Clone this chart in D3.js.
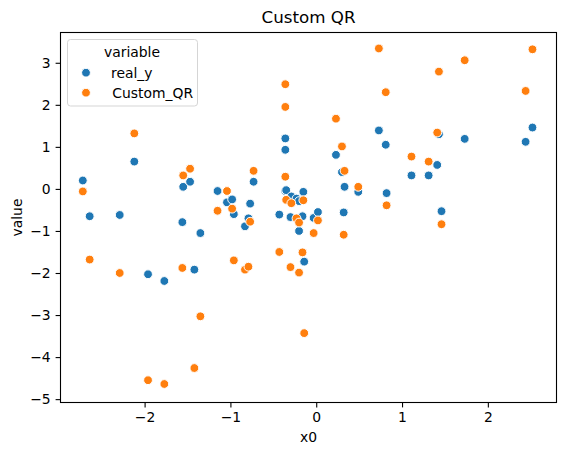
<!DOCTYPE html>
<html lang="en">
<head>
<meta charset="UTF-8">
<title>Custom QR</title>
<script src="https://d3js.org/d3.v7.min.js"></script>
<style>
  body { margin: 0; background: #fff; }
  text { font-family: "DejaVu Sans", sans-serif; fill: #000; }
</style>
</head>
<body>
<div id="chart"></div>
<script>

// data
var x0 = [-2.72, -2.64, -2.29, -2.12, -1.96, -1.77, -1.56, -1.55, -1.47, -1.42,
          -1.35, -1.15, -1.04, -0.98, -0.96, -0.83, -0.79, -0.77, -0.73, -0.43,
          -0.36, -0.36, -0.36, -0.35, -0.30, -0.29, -0.23, -0.20, -0.20, -0.16,
          -0.15, -0.14, -0.03, 0.02, 0.23, 0.30, 0.32, 0.33, 0.49, 0.73,
          0.81, 0.82, 1.11, 1.31, 1.41, 1.43, 1.46, 1.73, 2.44, 2.52];
var realY = [0.20, -0.65, -0.62, 0.65, -2.03, -2.19, -0.79, 0.05, 0.17, -1.92,
             -1.05, -0.05, -0.32, -0.25, -0.60, -0.89, -0.70, -0.35, 0.17, -0.61,
             1.20, 0.93, -0.05, -0.03, -0.67, -0.18, -0.23, -1.00, -0.29, -0.65,
             -0.07, -1.73, -0.69, -0.55, 0.81, 0.40, -0.56, 0.05, -0.07, 1.39,
             1.05, -0.10, 0.32, 0.32, 0.57, 1.30, -0.53, 1.19, 1.12, 1.46];
var customQR = [-0.06, -1.68, -2.00, 1.32, -4.55, -4.64, -1.88, 0.32, 0.48, -4.26,
                -3.03, -0.52, -0.05, -0.47, -1.70, -1.92, -1.85, -0.78, 0.43, -1.50,
                2.49, 1.95, 0.29, -0.26, -1.86, -0.34, -0.70, -1.99, -0.80, -1.51,
                -0.27, -3.43, -1.05, -0.75, 1.67, 1.01, -1.09, 0.43, 0.05, 3.34,
                2.30, -0.39, 0.77, 0.65, 1.34, 2.79, -0.84, 3.06, 2.33, 3.32];
var seriesNames = ["real_y", "Custom_QR"];
var seriesColors = ["#1f77b4", "#ff7f0e"];
var xTicks = [-2, -1, 0, 1, 2];
var yTicks = [-5, -4, -3, -2, -1, 0, 1, 2, 3];

var W = 565, H = 455;
var mLeft = 60.5, mRight = 556.5, mTop = 32.5, mBottom = 402.5;

var svg = d3.select("#chart").append("svg")
    .attr("width", W).attr("height", H);

var x = d3.scaleLinear().domain([-2.98, 2.80]).range([mLeft, mRight]);
var y = d3.scaleLinear().domain([-5.08, 3.72]).range([mBottom, mTop]);

// melt into long form like seaborn does
var points = [];
x0.forEach(function(v, i) { points.push({x: v, y: realY[i], s: 0}); });
x0.forEach(function(v, i) { points.push({x: v, y: customQR[i], s: 1}); });

svg.selectAll("circle.pt")
  .data(points)
  .enter().append("circle")
    .attr("class", "pt")
    .attr("cx", function(d) { return x(d.x); })
    .attr("cy", function(d) { return y(d.y); })
    .attr("r", 4.4)
    .attr("fill", function(d) { return seriesColors[d.s]; })
    .attr("stroke", "#fff")
    .attr("stroke-width", 1);

// axes
var fs = "13.9px";
var xAxis = svg.append("g")
  .attr("transform", "translate(0," + mBottom + ")")
  .call(d3.axisBottom(x).tickValues(xTicks).tickSize(4.9).tickPadding(4.9).tickFormat(d3.format("d")));
var yAxis = svg.append("g")
  .attr("transform", "translate(" + mLeft + ",0)")
  .call(d3.axisLeft(y).tickValues(yTicks).tickSize(4.9).tickPadding(4.9).tickFormat(d3.format("d")));
[xAxis, yAxis].forEach(function(a) {
  a.select(".domain").remove();
  a.selectAll("line").attr("stroke", "#000").attr("stroke-width", 1.1);
  a.selectAll("text").style("font-size", fs).style("font-family", "DejaVu Sans").attr("fill", "#000");
});

// frame
svg.append("rect")
  .attr("x", mLeft).attr("y", mTop)
  .attr("width", mRight - mLeft).attr("height", mBottom - mTop)
  .attr("fill", "none").attr("stroke", "#000").attr("stroke-width", 1.1);

// labels
svg.append("text").attr("x", (mLeft + mRight) / 2).attr("y", 442)
  .attr("text-anchor", "middle").style("font-size", fs).text("x0");
svg.append("text")
  .attr("transform", "translate(22," + (mTop + mBottom) / 2 + ") rotate(-90)")
  .attr("text-anchor", "middle").style("font-size", fs).text("value");
svg.append("text").attr("x", (mLeft + mRight) / 2).attr("y", 23)
  .attr("text-anchor", "middle").style("font-size", "16.7px").text("Custom QR");

// legend
var lg = svg.append("g");
lg.append("rect")
  .attr("x", 67.5).attr("y", 39.5).attr("width", 130).attr("height", 66.5)
  .attr("rx", 3).attr("fill", "#fff").attr("fill-opacity", 0.8)
  .attr("stroke", "#d5d5d5").attr("stroke-width", 1);
lg.append("text").attr("x", 132).attr("y", 57)
  .attr("text-anchor", "middle").style("font-size", fs).text("variable");
seriesNames.forEach(function(n, i) {
  lg.append("circle").attr("cx", 86).attr("cy", 72.7 + i * 20)
    .attr("r", 4.4).attr("fill", seriesColors[i]).attr("stroke", "#fff").attr("stroke-width", 1);
  lg.append("text").attr("x", 111 + i * 1.3).attr("y", 77.7 + i * 20)
    .style("font-size", fs).text(n);
});

</script>
</body>
</html>
